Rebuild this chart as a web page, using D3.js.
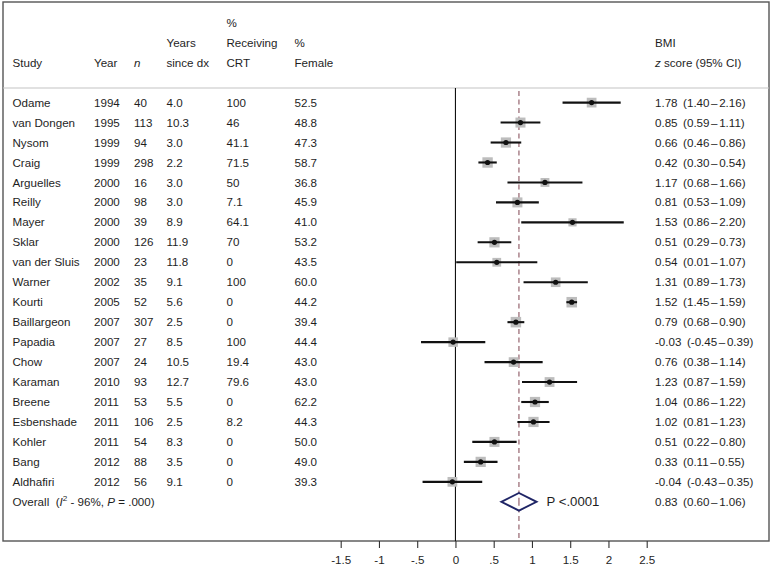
<!DOCTYPE html>
<html>
<head>
<meta charset="utf-8">
<script src="https://cdn.jsdelivr.net/npm/d3@7"></script>
<style>
html,body{margin:0;padding:0;background:#fff;}
svg{display:block;font-family:"Liberation Sans",Arial,sans-serif;}
</style>
</head>
<body>
<svg id="chart" width="772" height="568"></svg>
<script>
const studies = ["Odame","van Dongen","Nysom","Craig","Arguelles","Reilly","Mayer","Sklar","van der Sluis","Warner","Kourti","Baillargeon","Papadia","Chow","Karaman","Breene","Esbenshade","Kohler","Bang","Aldhafiri"];
const years = ["1994","1995","1999","1999","2000","2000","2000","2000","2000","2002","2005","2007","2007","2007","2010","2011","2011","2011","2012","2012"];
const ns = ["40","113","94","298","16","98","39","126","23","35","52","307","27","24","93","53","106","54","88","56"];
const yearsSinceDx = ["4.0","10.3","3.0","2.2","3.0","3.0","8.9","11.9","11.8","9.1","5.6","2.5","8.5","10.5","12.7","5.5","2.5","8.3","3.5","9.1"];
const pctCRT = ["100","46","41.1","71.5","50","7.1","64.1","70","0","100","0","0","100","19.4","79.6","0","8.2","0","0","0"];
const pctFemale = ["52.5","48.8","47.3","58.7","36.8","45.9","41.0","53.2","43.5","60.0","44.2","39.4","44.4","43.0","43.0","62.2","44.3","50.0","49.0","39.3"];
const est = [1.78,0.85,0.66,0.42,1.17,0.81,1.53,0.51,0.54,1.31,1.52,0.79,-0.03,0.76,1.23,1.04,1.02,0.51,0.33,-0.04];
const lo  = [1.40,0.59,0.46,0.30,0.68,0.53,0.86,0.29,0.01,0.89,1.45,0.68,-0.45,0.38,0.87,0.86,0.81,0.22,0.11,-0.43];
const hi  = [2.16,1.11,0.86,0.54,1.66,1.09,2.20,0.73,1.07,1.73,1.59,0.90,0.39,1.14,1.59,1.22,1.23,0.80,0.55,0.35];
const weights = [4.8,5.1,5.3,5.5,4.0,5.1,3.4,5.3,3.9,4.7,5.6,5.6,4.6,4.8,4.9,5.3,5.3,5.1,5.3,4.8];
const overallEst = 0.83, overallLo = 0.60, overallHi = 1.06;
const overallP = "P <.0001";
const tickValues = [-1.5,-1,-0.5,0,0.5,1,1.5,2,2.5];
const tickLabels = ["-1.5","-1","-.5","0",".5","1","1.5","2","2.5"];

const svg = d3.select("#chart");
const box = {x0:3, y0:2, x1:769, y1:541};
const headerLine = 88;
const fs = 11.6;
const txtColor = "#1e1e1e";

const x = d3.scaleLinear().domain([-1.5, 2.5]).range([340.7, 646.7]);
const y = d3.scaleLinear().domain([0, 20]).range([102.6, 501.8]);
const sz = d3.scaleSqrt().domain([0, d3.max(weights)]).range([0, 10.5]);
const f2 = v => v.toFixed(2);

// outer box
svg.append("rect").attr("x",box.x0).attr("y",box.y0)
  .attr("width",box.x1-box.x0).attr("height",box.y1-box.y0)
  .attr("fill","none").attr("stroke","#555").attr("stroke-width",1.4);
// header separator
svg.append("line").attr("x1",box.x0).attr("x2",box.x1).attr("y1",headerLine).attr("y2",headerLine)
  .attr("stroke","#c4c4c4").attr("stroke-width",1.2);

const cols = {study:12.5, year:94, n:134, dx:166.5, crt:226.5, fem:294.5, ci:655};
function htext(xp, yp, t, italic){
  const el = svg.append("text").attr("x",xp).attr("y",yp).attr("dy","0.35em")
    .attr("font-size",fs).attr("fill",txtColor).style("white-space","pre").text(t);
  if (italic) el.attr("font-style","italic");
  return el;
}
htext(cols.crt, 23, "%");
htext(cols.dx, 43, "Years");
htext(cols.crt, 43, "Receiving");
htext(cols.fem, 43, "%");
htext(cols.study, 63, "Study");
htext(cols.year, 63, "Year");
htext(cols.n, 63, "n", true);
htext(cols.dx, 63, "since dx");
htext(cols.crt, 63, "CRT");
htext(cols.fem, 63, "Female");
htext(cols.ci, 43, "BMI");
const zs = htext(cols.ci, 63, "");
zs.append("tspan").attr("font-style","italic").text("z");
zs.append("tspan").text(" score (95% CI)");

// zero line
svg.append("line").attr("x1",x(0)).attr("x2",x(0)).attr("y1",headerLine).attr("y2",box.y1)
  .attr("stroke","#111").attr("stroke-width",1.1);
// overall dashed line
svg.append("line").attr("x1",x(overallEst)).attr("x2",x(overallEst)).attr("y1",headerLine+3).attr("y2",box.y1)
  .attr("stroke","#8a5560").attr("stroke-width",1.1).attr("stroke-dasharray","5,3.5");

// table rows
const rows = svg.append("g");
const idx = d3.range(studies.length);
const colData = [[cols.study, studies],[cols.year, years],[cols.n, ns],[cols.dx, yearsSinceDx],[cols.crt, pctCRT],[cols.fem, pctFemale]];
colData.forEach(([cx, arr]) => {
  rows.selectAll(null).data(idx).enter().append("text")
    .attr("x", cx).attr("y", i => y(i)).attr("dy","0.35em")
    .attr("font-size", fs).attr("fill", txtColor).text(i => arr[i]);
});

function ciText(sel, e, l, h){
  sel.append("tspan").text(f2(e));
  sel.append("tspan").attr("dx", 5.5).text("(" + f2(l));
  sel.append("tspan").attr("dx", 1.6).text("\u2013");
  sel.append("tspan").attr("dx", 1.6).text(f2(h) + ")");
}
idx.forEach(i => {
  const t = rows.append("text").attr("x", cols.ci).attr("y", y(i)).attr("dy","0.35em")
    .attr("font-size", fs).attr("fill", txtColor);
  ciText(t, est[i], lo[i], hi[i]);
});

// markers
const marks = svg.append("g");
marks.selectAll("rect.w").data(idx).enter().append("rect")
  .attr("x", i => x(est[i]) - sz(weights[i])/2).attr("y", i => y(i) - sz(weights[i])/2)
  .attr("width", i => sz(weights[i])).attr("height", i => sz(weights[i]))
  .attr("fill","#bdbdbd");
marks.selectAll("line.ci").data(idx).enter().append("line")
  .attr("x1", i => x(lo[i])).attr("x2", i => x(hi[i]))
  .attr("y1", i => y(i)).attr("y2", i => y(i))
  .attr("stroke","#111").attr("stroke-width",2.1);
marks.selectAll("circle").data(idx).enter().append("circle")
  .attr("cx", i => x(est[i])).attr("cy", i => y(i)).attr("r",2.6).attr("fill","#111");

// overall row
const oy = y(20);
const ov = htext(cols.study, oy, "Overall  (");
ov.append("tspan").attr("font-style","italic").text("I");
ov.append("tspan").attr("font-size",fs*0.7).attr("dy","-0.6em").text("2");
ov.append("tspan").attr("dy","0.42em").text(" - 96%, ");
ov.append("tspan").attr("font-style","italic").text("P");
ov.append("tspan").text(" = .000)");
svg.append("path")
  .attr("d", `M${x(overallLo)},${oy} L${x(overallEst)},${oy-8.8} L${x(overallHi)},${oy} L${x(overallEst)},${oy+8.8} Z`)
  .attr("fill","#fff").attr("stroke","#1f2566").attr("stroke-width",1.9);
svg.append("line").attr("x1",x(overallEst)).attr("x2",x(overallEst)).attr("y1",oy-4).attr("y2",oy+4)
  .attr("stroke","#8a5560").attr("stroke-width",1.1);
htext(546.5, oy, overallP).attr("font-size",13.2);
const ot = svg.append("text").attr("x", cols.ci).attr("y", oy).attr("dy","0.35em")
  .attr("font-size", fs).attr("fill", txtColor);
ciText(ot, overallEst, overallLo, overallHi);

// axis
const axis = d3.axisBottom(x).tickValues(tickValues).tickSize(7).tickPadding(8)
  .tickFormat((d,i) => tickLabels[i]);
const ag = svg.append("g").attr("transform",`translate(0,${box.y1})`).call(axis);
ag.select(".domain").remove();
ag.selectAll(".tick line").attr("stroke","#333").attr("stroke-width",1.1);
ag.selectAll(".tick text").attr("font-size",fs).attr("fill",txtColor)
  .attr("font-family","'Liberation Sans',Arial,sans-serif");
</script>
</body>
</html>
